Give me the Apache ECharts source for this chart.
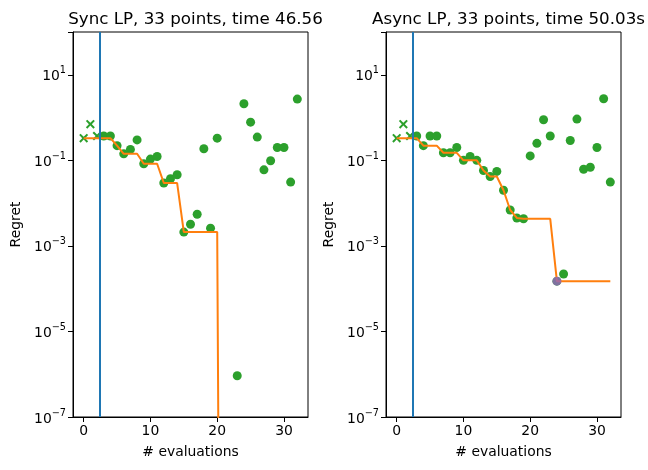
<!DOCTYPE html>
<html><head><meta charset="utf-8">
<script src="https://cdn.jsdelivr.net/npm/echarts@6/dist/echarts.min.js"></script>
<style>html,body{margin:0;padding:0;background:#fff}#c{width:648px;height:470px}</style>
</head><body><div id="c"></div>
<script>
// ---- data ----
const titles = ['Sync LP, 33 points, time 46.56', 'Async LP, 33 points, time 50.03s'];
const xTicks = [0, 10, 20, 30];
const yTicks = [1e-7, 1e-5, 1e-3, 1e-1, 1e1];
const initX = [0, 1, 2];
const initY = [0.33, 0.70, 0.37];
const vlineX = 2.35;

const syncX = [3,4,5,6,7,8,9,10,11,12,13,14,15,16,17,18,19,20,23,24,25,26,27,28,29,30,31,32];
const syncY = [0.37,0.37,0.22,0.142,0.18,0.30,0.083,0.107,0.123,0.0295,0.037,0.046,0.0021,0.0032,0.0055,0.186,0.0026,0.33,9.2e-7,2.1,0.78,0.35,0.060,0.098,0.20,0.20,0.031,2.7];
const syncBestX = [0,1,2,3,4,5,6,7,8,9,10,11,12,13,14,15,16,17,18,19,20,21,22,23,24,25,26,27,28,29,30,31,32];
// regret of 0 from x=21 on (drawn below the axis bottom on the log scale)
const syncBestY = [0.33,0.33,0.33,0.33,0.33,0.22,0.142,0.142,0.142,0.083,0.083,0.083,0.0295,0.0295,0.0295,0.0021,0.0021,0.0021,0.0021,0.0021,0.0021,1e-30,1e-30,1e-30,1e-30,1e-30,1e-30,1e-30,1e-30,1e-30,1e-30,1e-30,1e-30];

const asyncX = [3,4,5,6,7,8,9,10,11,12,13,14,15,16,17,18,19,20,21,22,23,24,25,26,27,28,29,30,31,32];
const asyncY = [0.37,0.22,0.37,0.37,0.15,0.15,0.20,0.10,0.123,0.10,0.058,0.042,0.055,0.020,0.0069,0.0045,0.0043,0.127,0.25,0.89,0.37,1.5e-4,2.2e-4,0.29,0.92,0.062,0.069,0.20,2.75,0.031];
const asyncBestX = syncBestX;
const asyncBestY = [0.33,0.33,0.33,0.33,0.22,0.22,0.22,0.15,0.15,0.15,0.10,0.10,0.10,0.058,0.042,0.042,0.020,0.0069,0.0045,0.0043,0.0043,0.0043,0.0043,0.0043,1.5e-4,1.5e-4,1.5e-4,1.5e-4,1.5e-4,1.5e-4,1.5e-4,1.5e-4,1.5e-4];
const asyncMarkX = [24];
const asyncMarkY = [1.5e-4];

// ---- styling ----
const FONT = 'DejaVu Sans';
const GREEN = '#2ca02c', ORANGE = '#ff7f0e', BLUE = '#1f77b4', PURPLE = '#9467bd';
const CROSS = 'path://M0,1.6L1.6,0L5,3.4L8.4,0L10,1.6L6.6,5L10,8.4L8.4,10L5,6.6L1.6,10L0,8.4L3.4,5Z';
const zip = (xs, ys) => xs.map((x, i) => [x, ys[i]]);
const grids = [{left: 73, top: 32, width: 235, height: 385}, {left: 386, top: 32, width: 235, height: 385}];

function supFmt(v) {
  const e = Math.round(Math.log10(v));
  if (e > 1) return '';
  return '{b|10}{s|' + String(e).replace('-', '\u2212') + '}';
}

const option = {
  animation: false,
  backgroundColor: '#fff',
  textStyle: {fontFamily: FONT},
  title: titles.map((t, i) => ({
    text: t, left: grids[i].left + grids[i].width / 2, top: 6, textAlign: 'center',
    textStyle: {fontFamily: FONT, fontSize: 16.7, fontWeight: 'normal', color: '#000'}
  })),
  grid: grids.map(g => Object.assign({show: true, borderColor: '#000', borderWidth: 1, backgroundColor: 'transparent'}, g)),
  xAxis: grids.map((g, i) => ({
    type: 'value', gridIndex: i, min: -1.6, max: 33.6,
    name: '# evaluations', nameLocation: 'middle', nameGap: 28,
    nameTextStyle: {fontFamily: FONT, fontSize: 13.9, color: '#000'},
    axisLine: {show: true, onZero: false, lineStyle: {color: '#000', width: 1}},
    axisTick: {show: true, length: 5, lineStyle: {color: '#000'}, customValues: xTicks},
    axisLabel: {customValues: xTicks, fontFamily: FONT, fontSize: 13.9, color: '#000', margin: 7},
    splitLine: {show: false}
  })),
  yAxis: grids.map((g, i) => ({
    type: 'log', logBase: 10, gridIndex: i, min: 1e-7, max: 100, interval: 2,
    name: 'Regret', nameLocation: 'middle', nameGap: 50,
    nameTextStyle: {fontFamily: FONT, fontSize: 13.9, color: '#000'},
    axisLine: {show: true, onZero: false, lineStyle: {color: '#000', width: 1}},
    axisTick: {show: true, length: 5, lineStyle: {color: '#000'}},
    minorTick: {show: false},
    axisLabel: {
      fontFamily: FONT, color: '#000', margin: 7, formatter: supFmt,
      rich: {
        b: {fontFamily: FONT, fontSize: 13.9, color: '#000', verticalAlign: 'bottom', lineHeight: 18},
        s: {fontFamily: FONT, fontSize: 9.7, color: '#000', verticalAlign: 'top', lineHeight: 18}
      }
    },
    splitLine: {show: false}
  })),
  series: []
};

const panels = [
  {x: syncX, y: syncY, bx: syncBestX, by: syncBestY},
  {x: asyncX, y: asyncY, bx: asyncBestX, by: asyncBestY}
];
panels.forEach((p, i) => {
  option.series.push({
    type: 'scatter', xAxisIndex: i, yAxisIndex: i, data: zip(p.x, p.y),
    symbol: 'circle', symbolSize: 9, itemStyle: {color: GREEN, opacity: 1}, z: 2, silent: true
  });
  option.series.push({
    type: 'scatter', xAxisIndex: i, yAxisIndex: i, data: zip(initX, initY),
    symbol: CROSS, symbolSize: 9, itemStyle: {color: GREEN, opacity: 1}, z: 2, silent: true
  });
  option.series.push({
    type: 'line', xAxisIndex: i, yAxisIndex: i, data: zip(p.bx, p.by),
    showSymbol: false, clip: true, lineStyle: {color: ORANGE, width: 2}, z: 3, silent: true,
    markLine: {
      silent: true, symbol: ['none', 'none'], label: {show: false},
      lineStyle: {color: BLUE, width: 2, type: 'solid'},
      data: [{xAxis: vlineX}]
    }
  });
});
option.series.push({
  type: 'scatter', xAxisIndex: 1, yAxisIndex: 1, data: zip(asyncMarkX, asyncMarkY),
  symbol: 'circle', symbolSize: 9, itemStyle: {color: PURPLE}, z: 5, silent: true
});

const chart = echarts.init(document.getElementById('c'), null, {renderer: 'canvas'});
chart.setOption(option);
</script>
</body></html>
